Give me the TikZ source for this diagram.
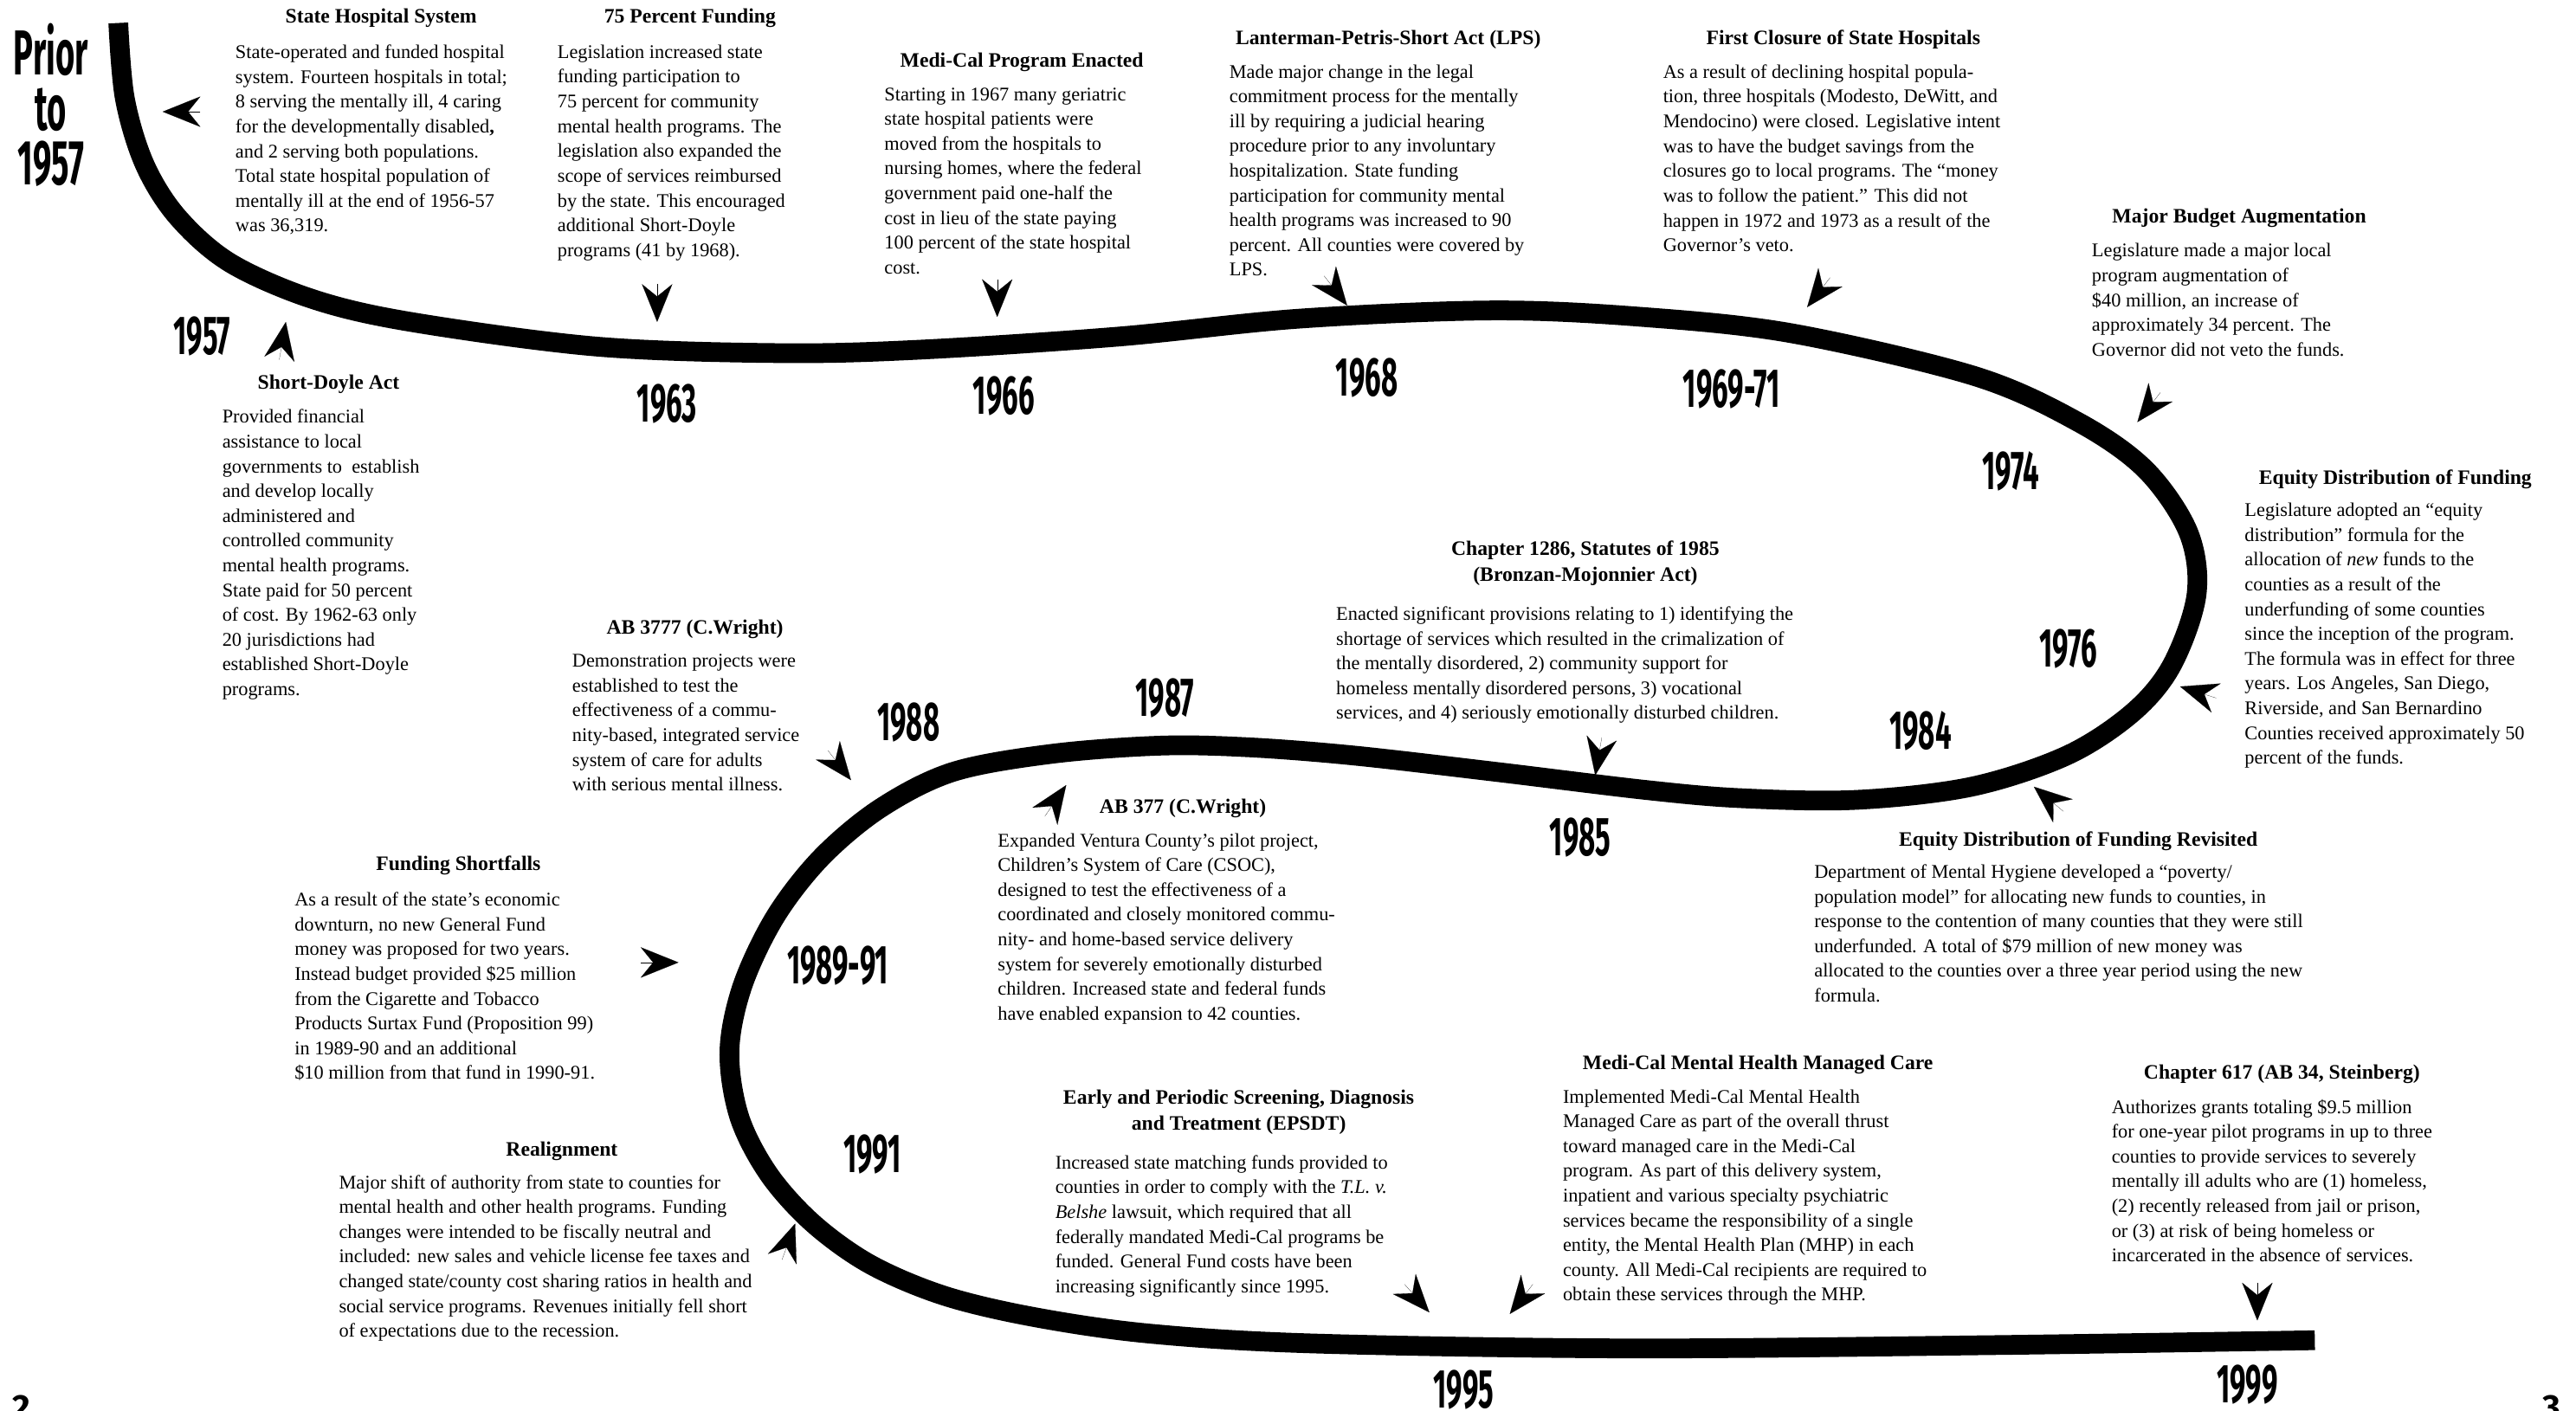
\documentclass[tikz,border=0pt]{standalone}
\usepackage{fontspec}
\setmainfont{Liberation Serif}
\newfontfamily\yearfont{Fira Sans}[FakeStretch=0.52]
\newfontfamily\pagefont{Fira Sans}
\usetikzlibrary{arrows.meta}
\tikzset{
  ev-head/.style={font=\fontsize{7.1}{9.1}\selectfont\bfseries,align=center,inner sep=0pt},
  ev-body/.style={font=\fontsize{6.7}{8.58}\selectfont,align=left,inner sep=0pt,anchor=north west},
  yr/.style={font=\yearfont\bfseries\fontsize{19}{19}\selectfont,inner sep=0pt},
  pointer/.style={-{Stealth[length=4.6mm,width=3.7mm,inset=1.5mm]},line width=0.05pt},
  timeline/.style={line width=2.4mm,line cap=butt,line join=round},
  pageno/.style={font=\pagefont\bfseries\fontsize{12}{12}\selectfont,inner sep=0pt,anchor=north},
}

\begin{document}
\begin{tikzpicture}[x=0.02cm,y=-0.02cm]
  \useasboundingbox (0,0) rectangle (1568,859);

  % the time line
  \draw[timeline] plot[smooth,tension=0.55] coordinates {
    (72,14) (76,60) (88,100) (108,132) (140,160) (190,182) (250,196)
    (363,211) (474,215) (558,213) (680,205) (791,194) (909,189)
    (1000,193) (1091,203) (1202,229) (1265,257) (1306,286) (1332,324) (1337,362)
    (1322,405) (1298,434) (1258,460) (1200,479) (1130,487) (1060,486) (1002,481)
    (911,470) (824,460) (760,455) (706,454) (640,459) (580,470) (536,492)
    (500,522) (472,558) (452,600) (444,640) (450,680) (468,715) (495,745)
    (530,770) (575,789) (630,802) (700,812) (800,818) (993,821) (1212,819)
    (1409,816)};

  % years along the line
  \node[yr,align=center,font=\yearfont\bfseries\fontsize{22}{19}\selectfont] (prior) at (31,64) {Prior\\to\\1957};
  \node[yr] (y1957) at (123,205)  {1957};
  \node[yr] (y1963) at (406,246)  {1963};
  \node[yr] (y1966) at (611,241)  {1966};
  \node[yr] (y1968) at (832,230)  {1968};
  \node[yr] (y1969) at (1054,237) {1969-71};
  \node[yr] (y1974) at (1224,287) {1974};
  \node[yr] (y1976) at (1259,395) {1976};
  \node[yr] (y1984) at (1169,445) {1984};
  \node[yr] (y1985) at (962,510)  {1985};
  \node[yr] (y1987) at (709,425)  {1987};
  \node[yr] (y1988) at (553,440)  {1988};
  \node[yr] (y1989) at (510,588)  {1989-91};
  \node[yr] (y1991) at (531,703)  {1991};
  \node[yr] (y1995) at (891,846)  {1995};
  \node[yr] (y1999) at (1368,843) {1999};

  % page numbers, cut by the page edge
  \node[pageno] (pg2) at (13,849)   {2};
  \node[pageno] (pg3) at (1553,849) {3};

  % TOP ROW
  \node[ev-head] (hosp-h) at (232,11) {State Hospital System};
  \node[ev-body] (hosp) at (143,27) {State-operated and funded hospital\\system. Fourteen hospitals in total;\\8 serving the mentally ill, 4 caring\\for the developmentally disabled\textbf{,}\\and 2 serving both populations.\\Total state hospital population of\\mentally ill at the end of 1956-57\\was 36,319.};

  \node[ev-head] (pct-h) at (420,11) {75 Percent Funding};
  \node[ev-body] (pct) at (339,27) {Legislation increased state\\funding participation to\\75 percent for community\\mental health programs. The\\legislation also expanded the\\scope of services reimbursed\\by the state. This encouraged\\additional Short-Doyle\\programs (41 by 1968).};

  \node[ev-head] (medi-h) at (622,38) {Medi-Cal Program Enacted};
  \node[ev-body] (medi) at (538,53) {Starting in 1967 many geriatric\\state hospital patients were\\moved from the hospitals to\\nursing homes, where the federal\\government paid one-half the\\cost in lieu of the state paying\\100 percent of the state hospital\\cost.};

  \node[ev-head] (lps-h) at (845,24) {Lanterman-Petris-Short Act (LPS)};
  \node[ev-body] (lps) at (748,39) {Made major change in the legal\\commitment process for the mentally\\ill by requiring a judicial hearing\\procedure prior to any involuntary\\hospitalization. State funding\\participation for community mental\\health programs was increased to 90\\percent. All counties were covered by\\LPS.};

  \node[ev-head] (close-h) at (1122,24) {First Closure of State Hospitals};
  \node[ev-body] (close) at (1012,39) {As a result of declining hospital popula-\\tion, three hospitals (Modesto, DeWitt, and\\Mendocino) were closed. Legislative intent\\was to have the budget savings from the\\closures go to local programs. The “money\\was to follow the patient.” This did not\\happen in 1972 and 1973 as a result of the\\Governor’s veto.};

  \node[ev-head] (budget-h) at (1363,133) {Major Budget Augmentation};
  \node[ev-body] (budget) at (1273,148) {Legislature made a major local\\program augmentation of\\\$40 million, an increase of\\approximately 34 percent. The\\Governor did not veto the funds.};

  % RIGHT SIDE
  \node[ev-head] (equity-h) at (1458,292) {Equity Distribution of Funding};
  \node[ev-body] (equity) at (1366,306) {Legislature adopted an “equity\\distribution” formula for the\\allocation of \emph{new} funds to the\\counties as a result of the\\underfunding of some counties\\since the inception of the program.\\The formula was in effect for three\\years. Los Angeles, San Diego,\\Riverside, and San Bernardino\\Counties received approximately 50\\percent of the funds.};

  % MIDDLE ROW
  \node[ev-head] (sd-h) at (200,234) {Short-Doyle Act};
  \node[ev-body] (sd) at (135,249) {Provided financial\\assistance to local\\governments to\ \ establish\\and develop locally\\administered and\\controlled community\\mental health programs.\\State paid for 50 percent\\of cost. By 1962-63 only\\20 jurisdictions had\\established Short-Doyle\\programs.};

  \node[ev-head] (ab3777-h) at (423,383) {AB 3777 (C.Wright)};
  \node[ev-body] (ab3777) at (348,398) {Demonstration projects were\\established to test the\\effectiveness of a commu-\\nity-based, integrated service\\system of care for adults\\with serious mental illness.};

  \node[ev-head] (ch1286-h) at (965,343) {Chapter 1286, Statutes of 1985\\(Bronzan-Mojonnier Act)};
  \node[ev-body] (ch1286) at (813,369) {Enacted significant provisions relating to 1) identifying the\\shortage of services which resulted in the crimalization of\\the mentally disordered, 2) community support for\\homeless mentally disordered persons, 3) vocational\\services, and 4) seriously emotionally disturbed children.};

  \node[ev-head] (ab377-h) at (720,492) {AB 377 (C.Wright)};
  \node[ev-body] (ab377) at (607,507) {Expanded Ventura County’s pilot project,\\Children’s System of Care (CSOC),\\designed to test the effectiveness of a\\coordinated and closely monitored commu-\\nity- and home-based service delivery\\system for severely emotionally disturbed\\children. Increased state and federal funds\\have enabled expansion to 42 counties.};

  \node[ev-head] (revisit-h) at (1265,512) {Equity Distribution of Funding Revisited};
  \node[ev-body] (revisit) at (1104,526) {Department of Mental Hygiene developed a “poverty/\\population model” for allocating new funds to counties, in\\response to the contention of many counties that they were still\\underfunded. A total of \$79 million of new money was\\allocated to the counties over a three year period using the new\\formula.};

  % BOTTOM ROW
  \node[ev-head] (short-h) at (279,527) {Funding Shortfalls};
  \node[ev-body] (short) at (179,543) {As a result of the state’s economic\\downturn, no new General Fund\\money was proposed for two years.\\Instead budget provided \$25 million\\from the Cigarette and Tobacco\\Products Surtax Fund (Proposition 99)\\in 1989-90 and an additional\\\$10 million from that fund in 1990-91.};

  \node[ev-head] (realign-h) at (342,701) {Realignment};
  \node[ev-body] (realign) at (206,715) {Major shift of authority from state to counties for\\mental health and other health programs. Funding\\changes were intended to be fiscally neutral and\\included: new sales and vehicle license fee taxes and\\changed state/county cost sharing ratios in health and\\social service programs. Revenues initially fell short\\of expectations due to the recession.};

  \node[ev-head] (epsdt-h) at (754,677) {Early and Periodic Screening, Diagnosis\\and Treatment (EPSDT)};
  \node[ev-body] (epsdt) at (642,703) {Increased state matching funds provided to\\counties in order to comply with the \emph{T.L. v.}\\\emph{Belshe} lawsuit, which required that all\\federally mandated Medi-Cal programs be\\funded. General Fund costs have been\\increasing significantly since 1995.};

  \node[ev-head] (mhmc-h) at (1070,648) {Medi-Cal Mental Health Managed Care};
  \node[ev-body] (mhmc) at (951,663) {Implemented Medi-Cal Mental Health\\Managed Care as part of the overall thrust\\toward managed care in the Medi-Cal\\program. As part of this delivery system,\\inpatient and various specialty psychiatric\\services became the responsibility of a single\\entity, the Mental Health Plan (MHP) in each\\county. All Medi-Cal recipients are required to\\obtain these services through the MHP.};

  \node[ev-head] (ch617-h) at (1389,654) {Chapter 617 (AB 34, Steinberg)};
  \node[ev-body] (ch617) at (1285,669) {Authorizes grants totaling \$9.5 million\\for one-year pilot programs in up to three\\counties to provide services to severely\\mentally ill adults who are (1) homeless,\\(2) recently released from jail or prison,\\or (3) at risk of being homeless or\\incarcerated in the absence of services.};

  % pointers onto the line
  \coordinate (hosp-t)    at (122,68);   \coordinate (hosp-p)    at (99,68);
  \coordinate (pct-t)     at (400,173);  \coordinate (pct-p)     at (400,196);
  \coordinate (medi-t)    at (607,170);  \coordinate (medi-p)    at (607,193);
  \coordinate (lps-t)     at (806,168);  \coordinate (lps-p)     at (820,186);
  \coordinate (close-t)   at (1114,169); \coordinate (close-p)   at (1100,187);
  \coordinate (budget-t)  at (1315,239); \coordinate (budget-p)  at (1301,257);
  \coordinate (equity-t)  at (1349,425); \coordinate (equity-p)  at (1327,418);
  \coordinate (sd-t)      at (170,219);  \coordinate (sd-p)      at (174,196);
  \coordinate (ab3777-t)  at (504,457);  \coordinate (ab3777-p)  at (518,475);
  \coordinate (ch1286-t)  at (975,449);  \coordinate (ch1286-p)  at (971,472);
  \coordinate (ab377-t)   at (636,497);  \coordinate (ab377-p)   at (649,478);
  \coordinate (revisit-t) at (1256,494); \coordinate (revisit-p) at (1238,479);
  \coordinate (short-t)   at (390,586);  \coordinate (short-p)   at (413,586);
  \coordinate (realign-t) at (476,767);  \coordinate (realign-p) at (484,745);
  \coordinate (epsdt-t)   at (855,782);  \coordinate (epsdt-p)   at (870,799);
  \coordinate (mhmc-t)    at (933,782);  \coordinate (mhmc-p)    at (919,800);
  \coordinate (ch617-t)   at (1374,781); \coordinate (ch617-p)   at (1374,804);
  \draw[pointer] (hosp-t)    -- (hosp-p);
  \draw[pointer] (pct-t)     -- (pct-p);
  \draw[pointer] (medi-t)    -- (medi-p);
  \draw[pointer] (lps-t)     -- (lps-p);
  \draw[pointer] (close-t)   -- (close-p);
  \draw[pointer] (budget-t)  -- (budget-p);
  \draw[pointer] (equity-t)  -- (equity-p);
  \draw[pointer] (sd-t)      -- (sd-p);
  \draw[pointer] (ab3777-t)  -- (ab3777-p);
  \draw[pointer] (ch1286-t)  -- (ch1286-p);
  \draw[pointer] (ab377-t)   -- (ab377-p);
  \draw[pointer] (revisit-t) -- (revisit-p);
  \draw[pointer] (short-t)   -- (short-p);
  \draw[pointer] (realign-t) -- (realign-p);
  \draw[pointer] (epsdt-t)   -- (epsdt-p);
  \draw[pointer] (mhmc-t)    -- (mhmc-p);
  \draw[pointer] (ch617-t)   -- (ch617-p);

\end{tikzpicture}
\end{document}
